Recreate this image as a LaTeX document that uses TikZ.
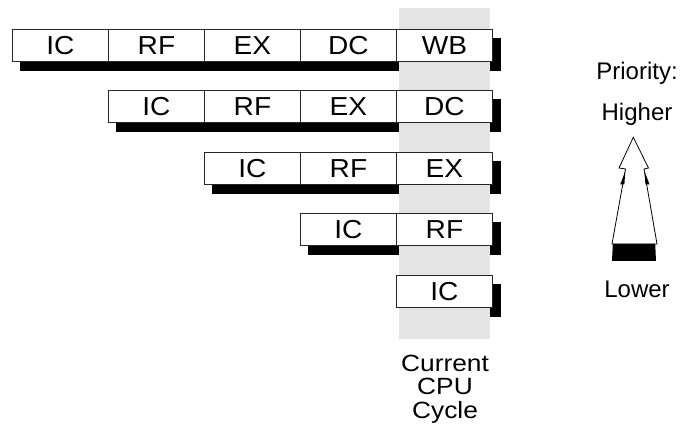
\documentclass[tikz,border=0pt]{standalone}
\usepackage{fontspec}
\setmainfont{Liberation Sans}
\newfontfamily\cellfont[FakeStretch=1.08]{Liberation Sans}
\newfontfamily\curfont[FakeStretch=1.12]{Liberation Sans}
\usetikzlibrary{backgrounds}
\begin{document}
\begin{tikzpicture}[x=1pt,y=-1pt,
  cell/.style={draw=black!85,line width=0.9pt,fill=white,minimum width=96pt,
    minimum height=32pt,inner sep=0pt,anchor=north west,
    font=\cellfont\fontsize{26}{26}\selectfont},
  lbl/.style={inner sep=0pt,font=\fontsize{24}{24}\selectfont,align=center},
  curlbl/.style={inner sep=0pt,font=\curfont\fontsize{23.5}{23.3}\selectfont,align=center},
  shadow/.style={fill=black},
  band/.style={fill=black!10},
  arrowline/.style={draw=black,line width=0.8pt,fill=white,line join=miter}]
\useasboundingbox (0,0) rectangle (680,427);
% pipeline rows
\foreach \r in {0,...,4}{
  \foreach \c [evaluate=\c as \k using int(\c-\r)] in {\r,...,4}{
    \pgfmathsetmacro{\xx}{12+96*\c}
    \pgfmathsetmacro{\yy}{29+61.5*\r}
    \ifcase\k \def\t{IC}\or \def\t{RF}\or \def\t{EX}\or \def\t{DC}\or \def\t{WB}\fi
    \node[cell] (c\r\c) at (\xx,\yy) {\t};
  }
}
\begin{scope}[on background layer]
  \foreach \r in {0,...,4}{
    \fill[shadow] ([shift={(8,9)}]c\r\r.north west) rectangle ([shift={(8,9)}]c\r4.south east);
  }
  \fill[band] (399,8) rectangle (490,339);
\end{scope}
% current cycle label
\node[curlbl,anchor=north] (cur) at (445,355) {Current\\CPU\\Cycle};
% priority
\node[lbl,anchor=base] (prio) at (637,79.5) {Priority:};
\node[lbl,anchor=base] (hi) at (637,120.5) {Higher};
\node[lbl,anchor=base] (lo) at (637,297.5) {Lower};
% arrow
\coordinate (tip) at (633.3,137.3);
\draw[arrowline] (tip) -- (648.5,168) -- (644,169) -- (657,244) -- (612,244) -- (625.5,169) -- (619,168) -- cycle;
\fill (612.8,244) -- (655.2,244) -- (656,261) -- (612,261) -- cycle;
\fill (625.2,171.5) -- (620.2,184.5) -- (624.4,184.5) -- cycle;
\fill (644.6,171.5) -- (649.6,184.5) -- (645.4,184.5) -- cycle;
\end{tikzpicture}
\end{document}
